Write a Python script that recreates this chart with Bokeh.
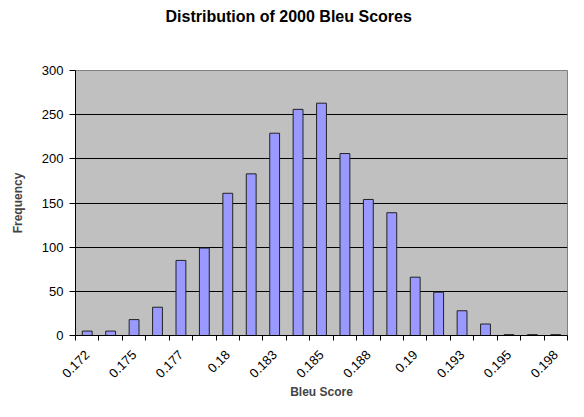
from math import pi
from bokeh.plotting import figure
from bokeh.models import FixedTicker, Range1d, LinearAxis
from bokeh.embed import file_html
from bokeh.resources import INLINE

bin_labels = ["0.172", "0.173", "0.175", "0.176", "0.177", "0.179", "0.18",
              "0.181", "0.183", "0.184", "0.185", "0.187", "0.188", "0.189",
              "0.19", "0.192", "0.193", "0.194", "0.195", "0.197", "0.198"]
frequencies = [5, 5, 18, 32, 85, 99, 161, 183, 229, 256, 263, 206, 154, 139,
               66, 49, 28, 13, 1, 1, 1]
y_ticks = [0, 50, 100, 150, 200, 250, 300]
title_text = "Distribution of 2000 Bleu Scores"

n = len(frequencies)
idx = list(range(n))

FONT = "Liberation Sans"

p = figure(width=568, height=401, output_backend="svg", toolbar_location=None,
           title=None,
           x_range=Range1d(-0.5, n - 0.5), y_range=Range1d(0, 300))
p.min_border_left = 75
p.min_border_right = 1
p.min_border_top = 70
p.min_border_bottom = 66
p.background_fill_color = "#C0C0C0"
p.border_fill_color = "white"
p.outline_line_color = "#808080"

xa = p.below[0]
ya = p.left[0]

p.vbar(x=idx, top=frequencies, width=0.42, bottom=0,
       fill_color="#9999FF", line_color="#222222", line_width=1)

# x axis (below)
shown = list(range(0, n, 2))
xa.ticker = FixedTicker(ticks=shown, minor_ticks=[i - 0.5 for i in range(n + 1)])
xa.major_label_overrides = {i: bin_labels[i] for i in shown}
xa.major_label_orientation = pi / 4
xa.major_label_standoff = 11
xa.major_tick_line_color = None
xa.minor_tick_line_color = "black"
xa.minor_tick_in = 0
xa.minor_tick_out = 5
xa.axis_line_color = "black"
xa.major_label_text_font = FONT
xa.major_label_text_font_size = "13px"
xa.major_label_text_color = "black"
xa.axis_label = "Bleu Score"
xa.axis_label_text_font = FONT
xa.axis_label_text_font_size = "12px"
xa.axis_label_text_font_style = "bold"
xa.axis_label_standoff = 0

# y axis
ya.ticker = FixedTicker(ticks=y_ticks, minor_ticks=[])
ya.major_tick_in = 0
ya.major_tick_out = 6
ya.major_tick_line_color = "black"
ya.axis_line_color = "black"
ya.major_label_standoff = 6
ya.major_label_text_font = FONT
ya.major_label_text_font_size = "13px"
ya.major_label_text_color = "black"
ya.axis_label = "Frequency"
ya.axis_label_text_font = FONT
ya.axis_label_text_font_size = "12px"
ya.axis_label_text_font_style = "bold"
ya.axis_label_standoff = 14

# chart title: drawn as the single label of a bare axis above the plot,
# so that it can sit centred over the whole chart rather than the frame
title_pos = 8.6
top_axis = LinearAxis(ticker=FixedTicker(ticks=[title_pos], minor_ticks=[]),
                      major_label_overrides={title_pos: title_text})
top_axis.axis_line_color = None
top_axis.major_tick_line_color = None
top_axis.minor_tick_line_color = None
top_axis.major_label_standoff = 40
top_axis.major_label_text_font = FONT
top_axis.major_label_text_font_size = "16px"
top_axis.major_label_text_font_style = "bold"
top_axis.major_label_text_color = "black"
p.add_layout(top_axis, "above")

p.xgrid.grid_line_color = None
p.ygrid.ticker = FixedTicker(ticks=y_ticks[1:-1])
p.ygrid.grid_line_color = "black"
p.ygrid.grid_line_alpha = 1.0

open("out.html", "w").write(file_html(p, INLINE))
